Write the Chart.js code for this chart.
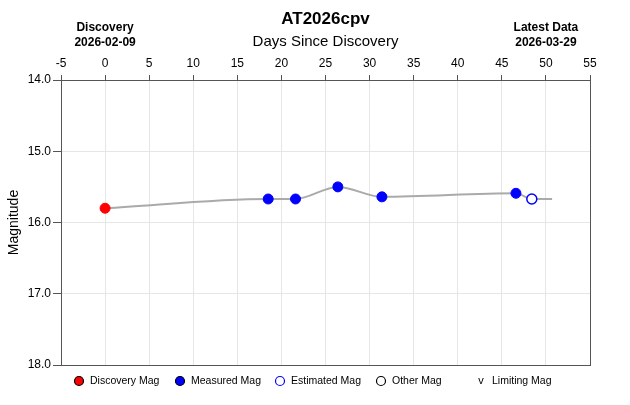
<!DOCTYPE html>
<html>
<head>
<meta charset="utf-8">
<script src="https://cdn.jsdelivr.net/npm/chart.js@4.4.1/dist/chart.umd.min.js"></script>
<style>
  body { margin: 0; background: #fff; }
  #wrap { width: 630px; height: 405px; }
</style>
</head>
<body>
<div id="wrap"><canvas id="lc" width="630" height="405"></canvas></div>
<script>
// values
var objName = 'AT2026cpv';
var discoveryDate = '2026-02-09', latestDate = '2026-03-29';
var latestLabelDay = 50;
var dayTicks = [-5, 55, 5];       // min, max, step
var magTicks = [14, 18, 1];

var discoveryDays = [0];
var discoveryMags = [15.80];
var measuredDays = [18.5, 21.6, 26.4, 31.4, 46.6];
var measuredMags = [15.67, 15.67, 15.50, 15.64, 15.59];
var estimatedDays = [48.4];
var estimatedMags = [15.67];
var trendDays = [0, 18.5, 21.6, 26.4, 31.4, 46.6, 48.4, 50.7];
var trendMags = [15.80, 15.67, 15.67, 15.50, 15.64, 15.59, 15.67, 15.67];

var legendNames = ['Discovery Mag', 'Measured Mag', 'Estimated Mag', 'Other Mag', 'Limiting Mag'];

function pts(xs, ys) {
    return xs.map(function (x, i) { return { x: x, y: ys[i] }; });
}

Chart.defaults.font.family = "'Liberation Sans', Arial, sans-serif";
Chart.defaults.color = '#000';

var axisColor = '#555';
var gridColor = '#e6e6e6';

var headerPlugin = {
    id: 'header',
    afterDraw: function (chart) {
        var ctx = chart.ctx, xs = chart.scales.x, ca = chart.chartArea;
        var mid = (ca.left + ca.right) / 2;
        ctx.save();
        ctx.fillStyle = '#000';
        ctx.textAlign = 'center';
        ctx.textBaseline = 'middle';
        ctx.font = "bold 17px 'Liberation Sans', Arial, sans-serif";
        ctx.fillText(objName, mid, 19);
        ctx.font = "15px 'Liberation Sans', Arial, sans-serif";
        ctx.fillText('Days Since Discovery', mid, 42);
        ctx.font = "bold 12px 'Liberation Sans', Arial, sans-serif";
        var dx = xs.getPixelForValue(0), lx = xs.getPixelForValue(latestLabelDay);
        ctx.fillText('Discovery', dx, 28);
        ctx.fillText(discoveryDate, dx, 43);
        ctx.fillText('Latest Data', lx, 28);
        ctx.fillText(latestDate, lx, 43);

        // legend
        var lxs = [79, 180, 280, 381, 481];
        var ly = 381;
        ctx.font = "10.5px 'Liberation Sans', Arial, sans-serif";
        ctx.textAlign = 'left';
        legendNames.forEach(function (name, i) {
            var cx = lxs[i];
            ctx.lineWidth = 1.2;
            if (i < 4) {
                ctx.beginPath();
                ctx.arc(cx, ly, 4.5, 0, Math.PI * 2);
                if (i == 0) { ctx.fillStyle = '#ff0000'; ctx.fill(); ctx.strokeStyle = '#000'; ctx.stroke(); }
                if (i == 1) { ctx.fillStyle = '#0000ff'; ctx.fill(); ctx.strokeStyle = '#000'; ctx.stroke(); }
                if (i == 2) { ctx.fillStyle = '#fff'; ctx.fill(); ctx.strokeStyle = '#0000ff'; ctx.stroke(); }
                if (i == 3) { ctx.fillStyle = '#fff'; ctx.fill(); ctx.strokeStyle = '#000'; ctx.stroke(); }
            } else {
                ctx.fillStyle = '#000';
                ctx.textAlign = 'center';
                ctx.font = "11px 'Liberation Sans', Arial, sans-serif";
                ctx.fillText('v', cx, ly);
                ctx.font = "10.5px 'Liberation Sans', Arial, sans-serif";
                ctx.textAlign = 'left';
            }
            ctx.fillStyle = '#000';
            ctx.fillText(name, cx + 11, ly);
        });
        ctx.restore();
    }
};

new Chart(document.getElementById('lc'), {
    type: 'line',
    data: {
        datasets: [{
            label: 'Trend',
            data: pts(trendDays, trendMags),
            borderColor: '#aaaaaa',
            borderWidth: 2,
            pointRadius: 0,
            cubicInterpolationMode: 'monotone',
            order: 5,
            xAxisID: 'x', yAxisID: 'y'
        }, {
            label: legendNames[0],
            data: pts(discoveryDays, discoveryMags),
            showLine: false,
            pointRadius: 5,
            pointBackgroundColor: '#ff0000',
            pointBorderColor: '#ff0000',
            order: 1,
            xAxisID: 'x', yAxisID: 'y'
        }, {
            label: legendNames[1],
            data: pts(measuredDays, measuredMags),
            showLine: false,
            pointRadius: 5,
            pointBackgroundColor: '#0000ff',
            pointBorderColor: '#0000ff',
            order: 1,
            xAxisID: 'x', yAxisID: 'y'
        }, {
            label: legendNames[2],
            data: pts(estimatedDays, estimatedMags),
            showLine: false,
            pointRadius: 5,
            pointBorderWidth: 1.5,
            pointBackgroundColor: '#ffffff',
            pointBorderColor: '#0000ff',
            order: 1,
            xAxisID: 'x', yAxisID: 'y'
        }]
    },
    options: {
        responsive: false,
        animation: false,
        layout: { padding: { left: 0, right: 40, top: 0, bottom: 40 } },
        plugins: { legend: { display: false }, tooltip: { enabled: false } },
        scales: {
            x: {
                type: 'linear', position: 'top',
                min: dayTicks[0], max: dayTicks[1],
                ticks: { stepSize: dayTicks[2], font: { size: 12 }, padding: 4, color: '#000' },
                grid: { color: gridColor, tickColor: axisColor, tickLength: 5 },
                border: { color: axisColor },
                afterFit: function (s) { s.height = 80; }
            },
            y: {
                type: 'linear', position: 'left', reverse: true,
                min: magTicks[0], max: magTicks[1],
                ticks: { stepSize: magTicks[2], font: { size: 12 }, padding: 2, color: '#000',
                    callback: function (v) { return Number(v).toFixed(1); } },
                grid: { color: gridColor, tickColor: axisColor, tickLength: 8 },
                border: { color: axisColor },
                title: { display: true, text: 'Magnitude', font: { size: 14 }, color: '#000', padding: { top: 6, bottom: 0 } },
                afterFit: function (s) { s.width = 61; }
            },
            xb: {
                type: 'linear', position: 'bottom',
                min: dayTicks[0], max: dayTicks[1],
                ticks: { display: false },
                grid: { display: false, drawTicks: false },
                border: { color: axisColor },
                afterFit: function (s) { s.height = 0; }
            },
            yr: {
                type: 'linear', position: 'right', reverse: true,
                min: magTicks[0], max: magTicks[1],
                ticks: { display: false },
                grid: { display: false, drawTicks: false },
                border: { color: axisColor },
                afterFit: function (s) { s.width = 0; }
            }
        }
    },
    plugins: [headerPlugin]
});
</script>
</body>
</html>
